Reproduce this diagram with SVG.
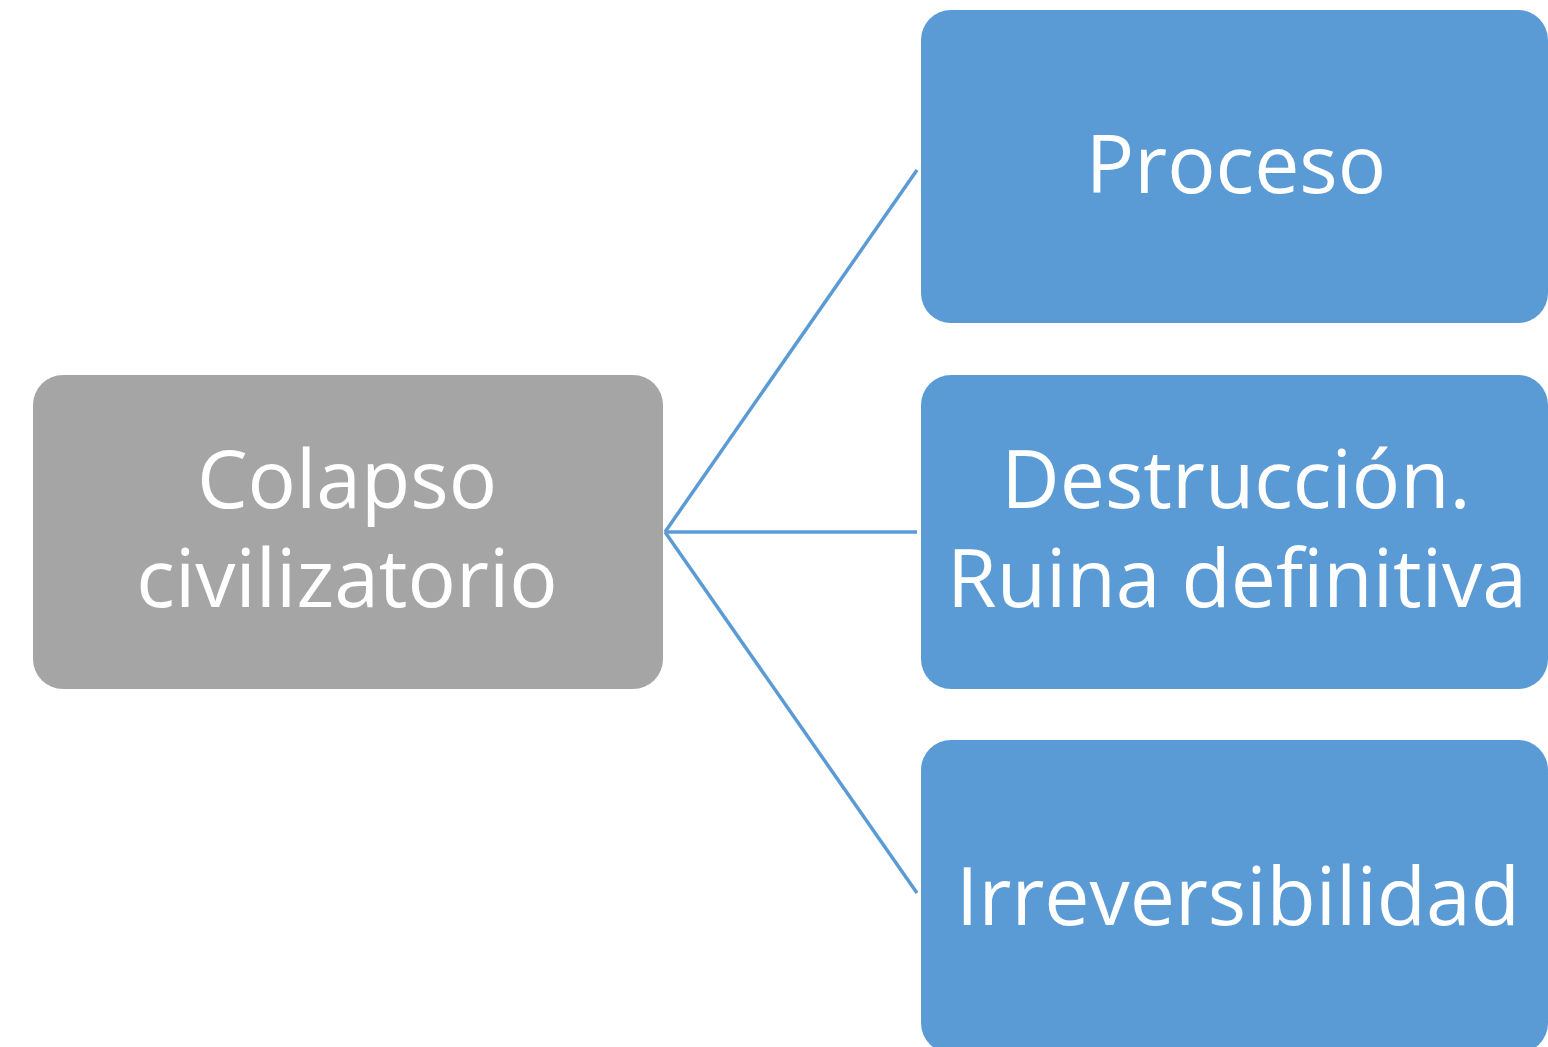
<svg xmlns="http://www.w3.org/2000/svg" width="1548" height="1047" viewBox="0 0 1548 1047">
<style>
.t{font-family:"Open Sans","Noto Sans","Liberation Sans",sans-serif;font-size:80.5px;fill:#ffffff;text-anchor:middle}
.blue{fill:#5B9BD5}
.gray{fill:#A5A5A5}
.conn{stroke:#5B9BD5;stroke-width:3.5;fill:none}
</style>
<rect width="1548" height="1047" fill="#ffffff"/>
<g id="connectors">
<line class="conn" x1="665" y1="532" x2="917" y2="170"/>
<line class="conn" x1="665" y1="532" x2="917" y2="532"/>
<line class="conn" x1="665" y1="532" x2="917" y2="893"/>
</g>
<g id="node-colapso">
<rect class="gray" x="33" y="375" width="630" height="314" rx="30" ry="30"/>
<text class="t" x="347" y="508">Colapso</text>
<text class="t" x="347" y="607">civilizatorio</text>
</g>
<g id="node-proceso">
<rect class="blue" x="921" y="10" width="627" height="313" rx="30" ry="30"/>
<text class="t" x="1236" y="193">Proceso</text>
</g>
<g id="node-destruccion">
<rect class="blue" x="921" y="375" width="627" height="314" rx="30" ry="30"/>
<text class="t" x="1236" y="508">Destrucción.</text>
<text class="t" x="1237" y="607">Ruina definitiva</text>
</g>
<g id="node-irreversibilidad">
<rect class="blue" x="921" y="740" width="627" height="313" rx="30" ry="30"/>
<text class="t" x="1238" y="925">Irreversibilidad</text>
</g>
</svg>
